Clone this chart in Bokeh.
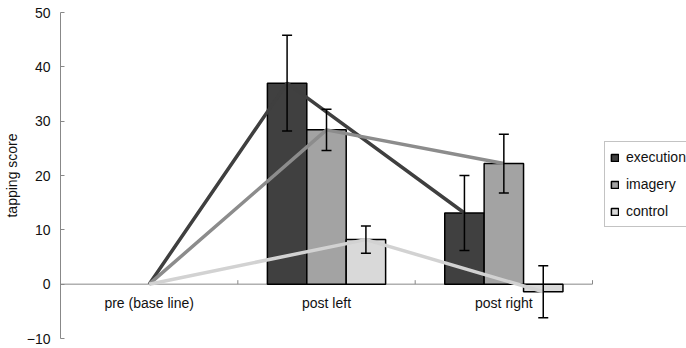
import math
from bokeh.plotting import figure
from bokeh.models import (ColumnDataSource, Whisker, TeeHead, Legend, LegendItem,
                          FixedTicker, Range1d)
from bokeh.core.properties import value
from bokeh.embed import file_html
from bokeh.resources import INLINE

categories = ["pre (base line)", "post left", "post right"]
series = ["execution", "imagery", "control"]
execution = [0, 37.0, 13.1]
imagery = [0, 28.4, 22.2]
control = [0, 8.2, -1.4]
execution_err = [0, 8.8, 6.9]
imagery_err = [0, 3.8, 5.4]
control_err = [0, 2.5, 4.8]
y_ticks = [-10, 0, 10, 20, 30, 40, 50]

values = [execution, imagery, control]
errors = [execution_err, imagery_err, control_err]
bar_colors = ["#404040", "#a3a3a3", "#d9d9d9"]
line_colors = ["#3f3f3f", "#8c8c8c", "#d2d2d2"]

FONT = "Liberation Sans"
n_cat = len(categories)
bar_w = 2.0 / 9.0
offsets = [-bar_w, 0.0, bar_w]
centers = [i + 0.5 for i in range(n_cat)]

p = figure(width=686, height=348, x_range=Range1d(0, 3.53), y_range=Range1d(-10, 50),
           x_axis_location=None, toolbar_location=None, output_backend="svg",
           min_border_left=60, min_border_right=0, min_border_top=12, min_border_bottom=10)
p.outline_line_color = None
p.xgrid.visible = False
p.ygrid.visible = False

ax = p.yaxis[0]
ax.ticker = FixedTicker(ticks=y_ticks)
ax.minor_tick_line_color = None
ax.major_tick_in = 4
ax.major_tick_out = 0
ax.axis_line_color = "#888888"
ax.major_tick_line_color = "#888888"
ax.major_label_standoff = 10
ax.major_label_text_font = FONT
ax.major_label_text_font_size = "14px"
ax.major_label_text_color = "#111111"
ax.axis_label = "tapping score"
ax.axis_label_text_font = FONT
ax.axis_label_text_font_size = "14px"
ax.axis_label_text_font_style = "normal"
ax.axis_label_text_color = "#111111"
ax.axis_label_standoff = 4

# x axis drawn at y = 0
p.segment(x0=[0], y0=[0], x1=[n_cat], y1=[0], line_color="#888888", line_width=1)
p.ray(x=list(range(1, n_cat + 1)), y=[0] * n_cat, length=4, length_units="screen",
      angle=math.pi / 2, line_color="#888888", line_width=1)
p.text(x=centers, y=[0] * n_cat, text=categories, text_align="center",
       text_baseline="middle", y_offset=19, text_font=value(FONT),
       text_font_size="14px", text_color="#111111")

# bars (not for baseline)
bar_renderers = []
for s, vals, col, off in zip(series, values, bar_colors, offsets):
    xs = [centers[i] + off for i in range(1, n_cat)]
    ys = vals[1:]
    src = ColumnDataSource(dict(x=xs, top=ys))
    r = p.vbar(x="x", top="top", bottom=0, width=bar_w, source=src,
               fill_color=col, line_color="black", line_width=1.5)
    bar_renderers.append(r)

# connecting lines
for vals, col, off in zip(values, line_colors, offsets):
    xs = [centers[0]] + [centers[i] + off for i in range(1, n_cat)]
    p.line(x=xs, y=vals, line_color=col, line_width=3.5)

# error bars
for vals, errs, off in zip(values, errors, offsets):
    xs = [centers[i] + off for i in range(1, n_cat)]
    up = [vals[i] + errs[i] for i in range(1, n_cat)]
    lo = [vals[i] - errs[i] for i in range(1, n_cat)]
    src = ColumnDataSource(dict(x=xs, upper=up, lower=lo))
    w = Whisker(base="x", upper="upper", lower="lower", source=src,
                line_color="black", line_width=1.5, level="overlay",
                upper_head=TeeHead(size=10, line_color="black", line_width=1.5),
                lower_head=TeeHead(size=10, line_color="black", line_width=1.5))
    p.add_layout(w)

legend = Legend(items=[LegendItem(label=s, renderers=[r]) for s, r in zip(series, bar_renderers)],
                location=(544, 111), border_line_color="#888888", border_line_width=1,
                padding=5, spacing=7, glyph_width=9, glyph_height=9, label_height=20,
                label_standoff=7, label_text_font=FONT, label_text_font_size="14px",
                label_text_color="#111111", margin=0, background_fill_alpha=1)
p.add_layout(legend)

open("out.html", "w").write(file_html(p, INLINE))
